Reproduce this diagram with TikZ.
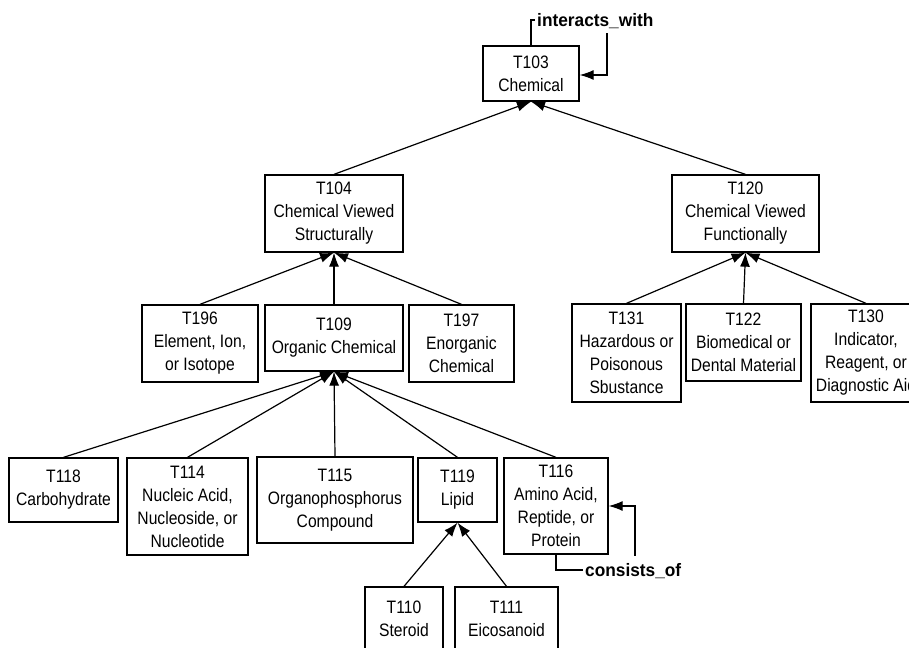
\documentclass[tikz,border=0pt]{standalone}
\usepackage{fontspec}
\setmainfont{Liberation Sans}[FakeStretch=0.87]
\newfontfamily\relfont{Liberation Sans}[FakeStretch=0.96]
\usetikzlibrary{arrows.meta}
\begin{document}
\begin{tikzpicture}[x=1pt,y=-1pt,
  box/.style={draw, line width=1.3pt, fill=white, align=center, inner sep=0pt,
              font=\fontsize{18}{23}\selectfont},
  isa/.style={line width=1.2pt, -{Latex[length=14pt,width=10pt]}},
  rel/.style={line width=1.2pt, -{Latex[length=14pt,width=10pt]}},
  rellabel/.style={fill=white, inner xsep=2pt, inner ysep=0pt, minimum height=#1,
                   font=\relfont\bfseries\fontsize{18}{20}\selectfont}]
\useasboundingbox (0,0) rectangle (909,647);
\fill[white] (0,0) rectangle (909,647);
\clip (0,0) rectangle (909,647);

% root
\node[box, minimum width=96pt, minimum height=55pt] (t103) at (531,73.5) {T103\\Chemical};

% second level
\node[box, minimum width=138pt, minimum height=77pt] (t104) at (334,213.5) {T104\\Chemical Viewed\\Structurally};
\node[box, minimum width=147pt, minimum height=77pt] (t120) at (745.5,213.5) {T120\\Chemical Viewed\\Functionally};

% third level
\node[box, minimum width=116pt, minimum height=77pt] (t196) at (200,343.5) {T196\\Element, Ion,\\or Isotope};
\node[box, minimum width=138pt, minimum height=66pt] (t109) at (334,338) {T109\\Organic Chemical};
\node[box, minimum width=105pt, minimum height=77pt] (t197) at (461.5,343.5) {T197\\Enorganic\\Chemical};
\node[box, minimum width=109pt, minimum height=98pt] (t131) at (626.5,353) {T131\\Hazardous or\\Poisonous\\Sbustance};
\node[box, minimum width=115pt, minimum height=77pt] (t122) at (743.5,342.5) {T122\\Biomedical or\\Dental Material};
\node[box, minimum width=110pt, minimum height=98pt] (t130) at (866,353) {T130\\Indicator,\\Reagent, or\\Diagnostic Aid};

% fourth level
\node[box, minimum width=109pt, minimum height=64pt] (t118) at (63.5,490) {T118\\Carbohydrate};
\node[box, minimum width=121pt, minimum height=97pt] (t114) at (187.5,506.5) {T114\\Nucleic Acid,\\Nucleoside, or\\Nucleotide};
\node[box, minimum width=156pt, minimum height=86pt] (t115) at (335,500) {T115\\Organophosphorus\\Compound};
\node[box, minimum width=79pt, minimum height=64pt] (t119) at (457.5,490) {T119\\Lipid};
\node[box, minimum width=104pt, minimum height=96pt] (t116) at (556,506) {T116\\Amino Acid,\\Reptide, or\\Protein};

% fifth level
\node[box, minimum width=78pt, minimum height=64pt] (t110) at (404,619) {T110\\Steroid};
\node[box, minimum width=103pt, minimum height=64pt] (t111) at (506.5,619) {T111\\Eicosanoid};

% is-a links
\draw[isa] (t104.north) -- (t103.south);
\draw[isa] (t120.north) -- (t103.south);
\draw[isa] (t196.north) -- (t104.south);
\draw[isa] (t109.north) -- (t104.south);
\draw[isa] (t197.north) -- (t104.south);
\draw[isa] (t131.north) -- (t120.south);
\draw[isa] (t122.north) -- (t120.south);
\draw[isa] (t130.north) -- (t120.south);
\draw[isa] (t118.north) -- (t109.south);
\draw[isa] (t114.north) -- (t109.south);
\draw[isa] (t115.north) -- (t109.south);
\draw[isa] (t119.north) -- (t109.south);
\draw[isa] (t116.north) -- (t109.south);
\draw[isa] (t110.north) -- (t119.south);
\draw[isa] (t111.north) -- (t119.south);

% self relations
\coordinate (iwc) at (607,20);
\draw[rel] (t103.north) |- (iwc) |- ([yshift=-1.5pt]t103.east);
\node[rellabel=24pt, anchor=west] (iw) at (535,21) {interacts\_with};

\coordinate (coc) at (635,570);
\draw[rel] (t116.south) |- (coc) |- (t116.east);
\node[rellabel=30pt, anchor=west] (co) at (583,571) {consists\_of};
\end{tikzpicture}
\end{document}
